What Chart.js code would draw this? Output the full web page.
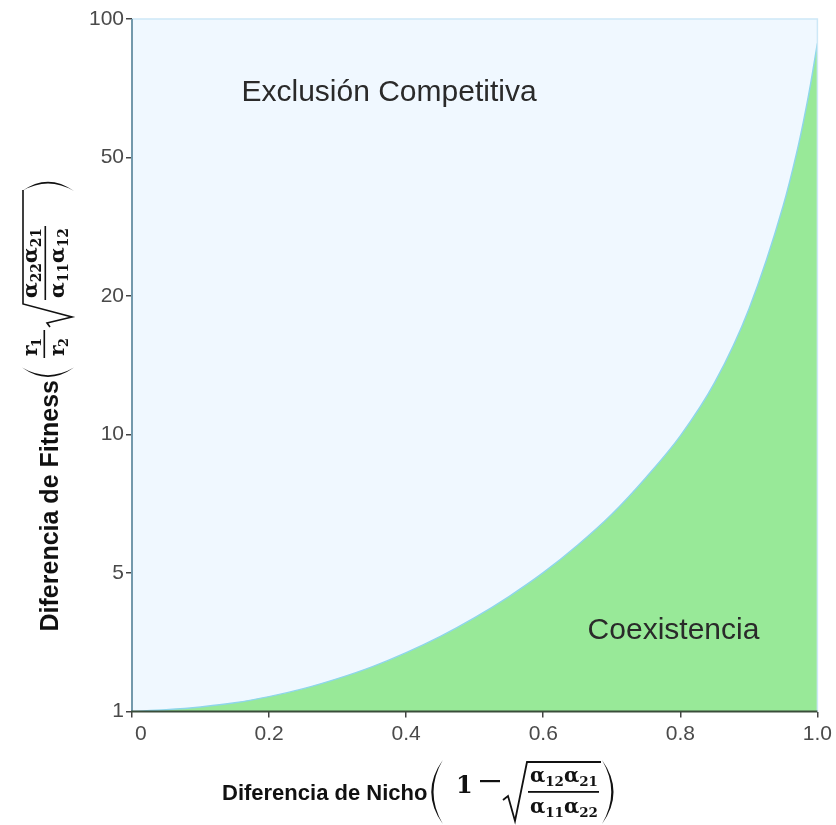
<!DOCTYPE html>
<html>
<head>
<meta charset="utf-8">
<script src="https://cdn.jsdelivr.net/npm/chart.js@4.4.1/dist/chart.umd.min.js"></script>
<style>
  html, body { margin: 0; padding: 0; background: #fff; }
  #wrap { width: 836px; height: 825px; }
</style>
</head>
<body>
<div id="wrap"><canvas id="chart" width="836" height="825"></canvas></div>
<script>
// values
const nicheDiff = [0, 0.05, 0.1, 0.15, 0.2, 0.25, 0.3, 0.35, 0.4, 0.45, 0.5, 0.55, 0.6, 0.65, 0.7, 0.75, 0.8, 0.85, 0.9, 0.95, 0.97, 0.98, 0.99, 1.0];
const fitnessDiff = [1, 1.05, 1.13, 1.25, 1.43, 1.66, 1.95, 2.29, 2.7, 3.17, 3.71, 4.32, 5.01, 6.0, 7.12, 8.45, 9.95, 13.74, 19.05, 39.5, 51.95, 63.4, 76.4, 91.2];
const yTickValues = [1, 5, 10, 20, 50, 100];
const xTickValues = [0, 0.2, 0.4, 0.6, 0.8, 1.0];

// the y axis puts its ticks at equal steps, so map a value onto tick index space
function toIdx(v) {
  for (let i = 0; i < yTickValues.length - 1; i++) {
    if (v <= yTickValues[i + 1]) {
      return i + (v - yTickValues[i]) / (yTickValues[i + 1] - yTickValues[i]);
    }
  }
  return yTickValues.length - 1;
}

const points = nicheDiff.map((x, i) => ({ x: x, y: toIdx(fitnessDiff[i]) }));

function drawParen(ctx, u, top, bottom, open) {
  const mid = (top + bottom) / 2, h = bottom - top, w = h * 0.2;
  ctx.beginPath();
  if (open) {
    ctx.moveTo(u + w, top);
    ctx.quadraticCurveTo(u - w * 0.8, mid, u + w, bottom);
    ctx.quadraticCurveTo(u - w * 0.45, mid, u + w, top);
  } else {
    ctx.moveTo(u, top);
    ctx.quadraticCurveTo(u + w * 1.8, mid, u, bottom);
    ctx.quadraticCurveTo(u + w * 1.45, mid, u, top);
  }
  ctx.fill();
}

// alpha terms like α12α21, scaled to a wanted width
function alphaTerm(ctx, u, base, subs, width) {
  const measure = (s) => {
    let w = 0;
    subs.forEach(sub => {
      ctx.font = 'bold ' + s + 'px "DejaVu Serif"';
      w += ctx.measureText('α').width;
      ctx.font = 'bold ' + (s * 0.68) + 'px "DejaVu Serif"';
      w += ctx.measureText(sub).width;
    });
    return w;
  };
  const size = 20 * width / measure(20);
  subs.forEach(sub => {
    ctx.font = 'bold ' + size + 'px "DejaVu Serif"';
    ctx.fillText('α', u, base);
    u += ctx.measureText('α').width;
    ctx.font = 'bold ' + (size * 0.68) + 'px "DejaVu Serif"';
    ctx.fillText(sub, u, base + size * 0.22);
    u += ctx.measureText(sub).width;
  });
}

function drawSqrt(ctx, pts) {
  ctx.beginPath();
  ctx.moveTo(pts[0][0], pts[0][1]);
  for (let i = 1; i < pts.length; i++) ctx.lineTo(pts[i][0], pts[i][1]);
  ctx.stroke();
}

const decorPlugin = {
  id: 'decor',
  beforeDraw(chart) {
    const { ctx, chartArea: a } = chart;
    ctx.save();
    ctx.fillStyle = '#f0f8ff';
    ctx.fillRect(a.left, a.top, a.right - a.left, a.bottom - a.top);
    ctx.restore();
  },
  afterDatasetsDraw(chart) {
    const { ctx, chartArea: a, scales } = chart;
    ctx.save();
    // frame
    ctx.strokeStyle = '#cde8f7';
    ctx.lineWidth = 1.5;
    ctx.beginPath();
    ctx.moveTo(a.left, a.top);
    ctx.lineTo(a.right, a.top);
    ctx.lineTo(a.right, a.bottom);
    ctx.stroke();
    ctx.strokeStyle = '#7399ac';
    ctx.lineWidth = 2;
    ctx.beginPath();
    ctx.moveTo(a.left, a.top);
    ctx.lineTo(a.left, a.bottom);
    ctx.stroke();
    ctx.strokeStyle = '#3a4d3a';
    ctx.beginPath();
    ctx.moveTo(a.left - 1, a.bottom);
    ctx.lineTo(a.right, a.bottom);
    ctx.stroke();

    // region labels
    ctx.fillStyle = '#2a2a2a';
    ctx.font = '30px "Liberation Sans", Arial, sans-serif';
    ctx.textAlign = 'center';
    ctx.textBaseline = 'alphabetic';
    ctx.fillText('Exclusión Competitiva', scales.x.getPixelForValue(0.375), scales.y.getPixelForValue(4.41));
    ctx.fillText('Coexistencia', scales.x.getPixelForValue(0.79), scales.y.getPixelForValue(0.52));
    ctx.restore();
  },
  afterDraw(chart) {
    const ctx = chart.ctx;
    ctx.save();
    ctx.fillStyle = '#111';
    ctx.strokeStyle = '#111';
    ctx.textAlign = 'left';
    ctx.textBaseline = 'alphabetic';

    // x title
    ctx.font = 'bold 22px "Liberation Sans", Arial, sans-serif';
    ctx.fillText('Diferencia de Nicho', 222, 800);
    drawParen(ctx, 430, 760, 824, true);
    ctx.font = 'bold 24px "DejaVu Serif"';
    ctx.fillText('1', 456, 793);
    ctx.fillRect(480, 780, 20, 2.2);
    ctx.lineWidth = 1.8;
    drawSqrt(ctx, [[503, 800], [508, 796], [515, 821], [527, 762], [601, 762]]);
    alphaTerm(ctx, 530, 782, ['12', '21'], 68);
    ctx.fillRect(528, 791, 71, 1.8);
    alphaTerm(ctx, 530, 813, ['11', '22'], 68);
    drawParen(ctx, 602, 760, 824, false);

    // y title, drawn rotated
    ctx.translate(0, 378);
    ctx.rotate(-Math.PI / 2);
    ctx.font = 'bold 25px "Liberation Sans", Arial, sans-serif';
    ctx.textAlign = 'right';
    ctx.fillText('Diferencia de Fitness', -2, 58);
    ctx.textAlign = 'left';
    drawParen(ctx, 0, 22, 74, true);
    ctx.font = 'bold 20px "DejaVu Serif"';
    ctx.fillText('r', 22, 37);
    ctx.fillText('r', 22, 64);
    ctx.font = 'bold 13px "DejaVu Serif"';
    ctx.fillText('1', 31, 41);
    ctx.fillText('2', 31, 68);
    ctx.fillRect(20, 43.5, 28, 1.6);
    ctx.lineWidth = 1.6;
    drawSqrt(ctx, [[51, 50], [55, 47], [61, 72], [74, 23], [188, 23]]);
    alphaTerm(ctx, 80, 37, ['22', '21'], 70);
    ctx.fillRect(78, 44.5, 74, 1.6);
    alphaTerm(ctx, 80, 64, ['11', '12'], 70);
    drawParen(ctx, 187, 22, 74, false);
    ctx.restore();
  }
};

const tickFont = { family: '"Liberation Sans", Arial, sans-serif', size: 21 };

new Chart(document.getElementById('chart'), {
  type: 'line',
  data: {
    datasets: [{
      data: points,
      borderColor: '#8fd6ea',
      borderWidth: 1.5,
      backgroundColor: '#98e998',
      fill: 'origin',
      pointRadius: 0,
      cubicInterpolationMode: 'monotone'
    }]
  },
  options: {
    responsive: false,
    animation: false,
    layout: { padding: { top: 19, right: 15, left: 0, bottom: 0 } },
    plugins: { legend: { display: false }, tooltip: { enabled: false } },
    scales: {
      x: {
        type: 'linear',
        min: 0,
        max: 1,
        afterBuildTicks: s => { s.ticks = xTickValues.map(v => ({ value: v })); },
        afterFit: s => { s.height = 113.5; },
        ticks: {
          font: tickFont,
          color: '#4a4a4a',
          padding: 4,
          maxRotation: 0,
          // the reference prints its "0" a little to the right of the tick
          callback: v => (v === 0 ? '   0' : v.toFixed(1))
        },
        grid: { drawOnChartArea: false, drawTicks: true, tickLength: 6, color: '#444', lineWidth: 1.5 },
        border: { display: false }
      },
      y: {
        type: 'linear',
        min: 0,
        max: yTickValues.length - 1,
        afterBuildTicks: s => { s.ticks = yTickValues.map((v, i) => ({ value: i })); },
        afterFit: s => { s.width = 132; },
        ticks: {
          font: tickFont,
          color: '#4a4a4a',
          padding: 2,
          callback: v => String(yTickValues[v])
        },
        grid: { drawOnChartArea: false, drawTicks: true, tickLength: 6, color: '#444', lineWidth: 1.5 },
        border: { display: false }
      }
    }
  },
  plugins: [decorPlugin]
});
</script>
</body>
</html>
